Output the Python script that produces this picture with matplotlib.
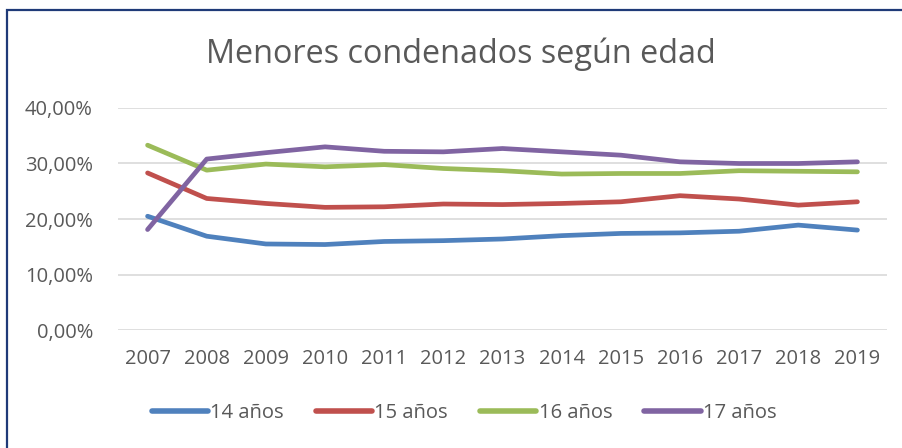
import matplotlib
matplotlib.use("Agg")
import matplotlib.pyplot as plt
from matplotlib.patches import Rectangle
from matplotlib.ticker import FuncFormatter

plt.rcParams['font.family'] = ['Open Sans', 'DejaVu Sans']

years = [2007, 2008, 2009, 2010, 2011, 2012, 2013, 2014, 2015, 2016, 2017, 2018, 2019]
s14 = [20.5, 16.9, 15.5, 15.4, 15.95, 16.1, 16.4, 17.0, 17.4, 17.5, 17.8, 18.9, 18.0]
s15 = [28.3, 23.7, 22.8, 22.1, 22.2, 22.7, 22.6, 22.8, 23.1, 24.2, 23.6, 22.5, 23.1]
s16 = [33.3, 28.8, 29.9, 29.4, 29.8, 29.1, 28.7, 28.1, 28.2, 28.2, 28.7, 28.6, 28.5]
s17 = [18.1, 30.8, 31.95, 33.0, 32.2, 32.1, 32.7, 32.1, 31.5, 30.3, 30.0, 30.0, 30.3]
labels = ['14 años', '15 años', '16 años', '17 años']
colors = ['#4F81BD', '#C0504D', '#9BBB59', '#8064A2']
yticks = [0, 10, 20, 30, 40]
title = 'Menores condenados según edad'

W, H = 903, 448
fig = plt.figure(figsize=(W / 100, H / 100), dpi=100)
ax = fig.add_axes([118 / W, 1 - 330 / H, (887 - 118) / W, (330 - 108) / H])

for vals, lab, col in zip([s14, s15, s16, s17], labels, colors):
    ax.plot(years, vals, color=col, lw=3.4, label=lab, solid_capstyle='round', solid_joinstyle='round', zorder=3)

ax.set_xlim(years[0] - 0.5, years[-1] + 0.5)
ax.set_ylim(0, 40)
ax.set_yticks(yticks)
ax.yaxis.set_major_formatter(FuncFormatter(lambda v, p: f"{v:.2f}%".replace('.', ',')))
ax.set_xticks(years)
ax.set_xticklabels([str(y) for y in years])
ax.grid(axis='y', color='#D9D9D9', lw=1.2, zorder=0)
for s in ax.spines.values():
    s.set_visible(False)
ax.tick_params(axis='both', length=0, colors='#595959', labelsize=14.5)
ax.tick_params(axis='y', pad=18)
ax.tick_params(axis='x', pad=14)

fig.text(461 / W, 1 - 54 / H, title, ha='center', va='center', fontsize=23.3,
         color='#595959')

leg = fig.legend(loc='center', bbox_to_anchor=(464 / W, 1 - 413 / H), ncol=4, frameon=False,
                 fontsize=14.5, handlelength=2.8, handletextpad=0.1, columnspacing=1.6,
                 labelcolor='#595959')
for h in leg.get_lines():
    h.set_linewidth(4)

fig.patches.append(Rectangle((7 / W, -0.1), 1.2, 1 - 10 / H + 0.1, transform=fig.transFigure,
                             fill=False, edgecolor='#1F3A78', lw=1.6))

fig.savefig('out.png', dpi=100)
